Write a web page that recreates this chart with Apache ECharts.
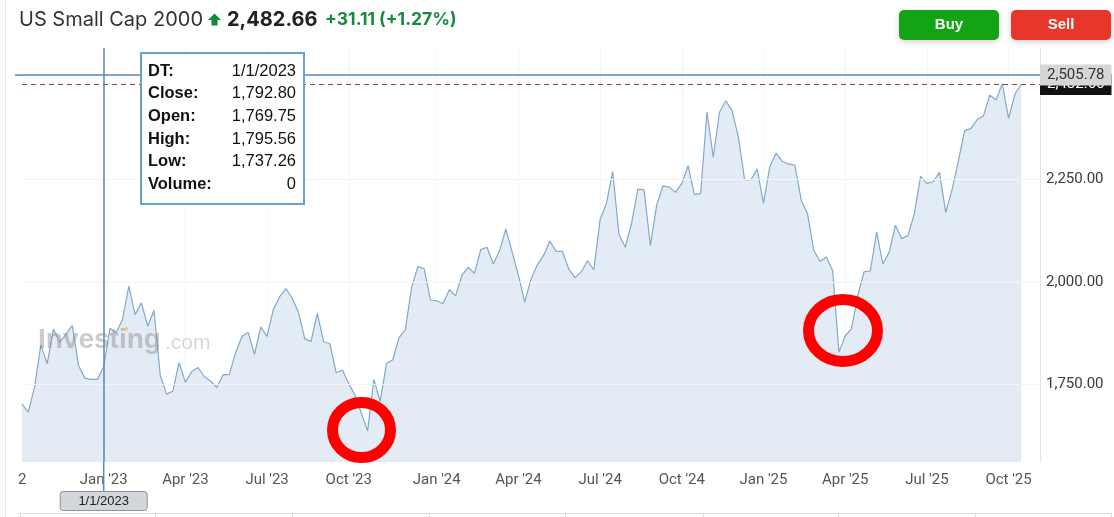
<!DOCTYPE html>
<html><head><meta charset="utf-8">
<script src="https://cdn.jsdelivr.net/npm/echarts@6/dist/echarts.min.js"></script>
<style>html,body{margin:0;padding:0;background:#fff;}#c{width:1114px;height:517px;}</style>
</head><body><div id="c"></div>
<script>
// ---- data ----
const startDate = '2022-10-02';   // first weekly bar (Sunday)
const futureWeeks = 3;            // empty weeks to the right edge of the axis
const closeValues = [
 1702,1682,1743,1846,1800,1885,1853,1872,1894,1796,1765,1762,1762,1792.80,1887,1876,1909,1990,1920,1949,
 1892,1931,1772,1726,1733,1803,1755,1781,1791,1769,1758,1742,1773,1774,1828,1867,1877,1823,1890,1867,
 1933,1964,1984,1960,1926,1861,1855,1923,1854,1849,1778,1785,1751,1724,1679,1636,1762,1708,1800,1810,
 1864,1883,1987,2038,2032,1956,1954,1947,1981,1966,2016,2036,2021,2079,2085,2044,2077,2130,2073,2016,
 1951,2007,2042,2065,2100,2075,2075,2032,2010,2025,2052,2030,2153,2192,2270,2116,2085,2143,2227,2225,
 2089,2188,2235,2232,2219,2241,2284,2214,2216,2416,2305,2415,2443,2419,2354,2250,2250,2276,2192,2282,
 2315,2295,2288,2286,2200,2167,2077,2050,2061,2028,1828,1868,1886,1966,2025,2027,2122,2044,2073,2139,
 2106,2114,2167,2258,2241,2245,2268,2170,2225,2295,2370,2375,2397,2406,2457,2445,2485,2400,2459,2482.66
];
const yTickValues = [1750, 2000, 2250];
const quarterMonths = [0, 3, 6, 9];
const monthNames = ['Jan','Feb','Mar','Apr','May','Jun','Jul','Aug','Sep','Oct','Nov','Dec'];
const lastPrice = 2482.66;
const crosshairPrice = 2505.78;
const crosshairDate = '2023-01-01';
const crosshairDateLabel = '1/1/2023';
const tooltipRows = [
  ['DT:', '1/1/2023'], ['Close:', '1,792.80'], ['Open:', '1,769.75'],
  ['High:', '1,795.56'], ['Low:', '1,737.26'], ['Volume:', '0']
];
const titleName = 'US Small Cap 2000';
const titlePrice = '2,482.66';
const titleChange = '+31.11 (+1.27%)';

// ---- categories (weekly dates) ----
const categories = [];
(function(){
  const d0 = new Date(startDate + 'T00:00:00Z');
  const n = closeValues.length + futureWeeks;
  for (let i = 0; i < n; i++) {
    const d = new Date(d0.getTime() + i * 7 * 86400000);
    categories.push(d.toISOString().slice(0, 10));
  }
})();
function isQuarterStart(idx, val) {
  if (idx === 0) return false;
  const m = +val.slice(5, 7) - 1, day = +val.slice(8, 10);
  return day <= 7 && quarterMonths.indexOf(m) >= 0;
}
function fmtNum(v) { return v.toLocaleString('en-US', {minimumFractionDigits: 2, maximumFractionDigits: 2}); }

const chart = echarts.init(document.getElementById('c'), null, {renderer: 'canvas'});
const FONT = 'Roboto, "Noto Sans", Arial, sans-serif';

chart.setOption({
  animation: false,
  backgroundColor: '#fff',
  grid: {left: 22, right: 74, top: 48, bottom: 55, containLabel: false},
  xAxis: {
    type: 'category', data: categories, boundaryGap: false,
    axisLine: {show: false}, axisTick: {show: false},
    axisLabel: {
      interval: isQuarterStart, margin: 11, color: '#555', fontSize: 15, fontFamily: FONT,
      formatter: function (v) { return monthNames[+v.slice(5, 7) - 1] + " '" + v.slice(2, 4); }
    },
    splitLine: {show: true, interval: isQuarterStart, lineStyle: {color: '#f3f5f7', width: 1}}
  },
  yAxis: {
    type: 'value', position: 'right', min: 1560, max: 2572,
    axisLine: {show: true, lineStyle: {color: '#e4e4e4'}},
    axisTick: {show: false, customValues: yTickValues},
    splitLine: {show: false},
    axisLabel: {customValues: yTickValues, margin: 6, color: '#3a3a3a', fontSize: 15, fontFamily: FONT, formatter: fmtNum}
  },
  series: [{
    type: 'line', data: closeValues, showSymbol: false, symbol: 'none',
    lineStyle: {color: '#80a9cc', width: 1.2},
    areaStyle: {color: '#e3ecf5', opacity: 1, origin: 'start'},
    z: 2,
    markLine: {
      silent: true, symbol: 'none', animation: false,
      data: yTickValues.map(v => ({yAxis: v, lineStyle: {color: '#f2f4f6', width: 1, type: 'solid'}, label: {show: false}}))
        .concat([
        {yAxis: lastPrice, lineStyle: {color: '#9e3d3a', width: 1, type: [5, 4]},
         label: {show: true, position: 'end', distance: 0, formatter: fmtNum(lastPrice), backgroundColor: '#111', color: '#fff',
                 fontSize: 15, fontFamily: FONT, padding: [3, 7, 3, 7], lineHeight: 15}},
        {yAxis: crosshairPrice, lineStyle: {color: '#5d86b3', width: 1.5, type: 'solid'},
         label: {show: true, position: 'end', distance: 0, formatter: fmtNum(crosshairPrice), backgroundColor: '#d6d6d6', color: '#333',
                 fontSize: 15, fontFamily: FONT, padding: [3, 7, 3, 7], lineHeight: 15}},
        {xAxis: crosshairDate, lineStyle: {color: '#5d86b3', width: 1.5, type: 'solid'}, label: {show: false}}
      ])
    }
  }]
});

const cp = chart.convertToPixel({xAxisIndex: 0, yAxisIndex: 0}, [crosshairDate, crosshairPrice]);
const cx = cp[0], cyH = cp[1];
const g = [];
// container borders / toolbar
g.push({type: 'line', shape: {x1: 5.5, y1: 0, x2: 5.5, y2: 517}, style: {stroke: '#e6e6e6', lineWidth: 1}, z: 1});
g.push({type: 'line', shape: {x1: 18, y1: 513.5, x2: 1111, y2: 513.5}, style: {stroke: '#dcdcdc', lineWidth: 1}, z: 1});
[20, 155, 292, 429, 565, 703, 838, 975, 1111].forEach(x => g.push({type: 'line', shape: {x1: x + 0.5, y1: 513, x2: x + 0.5, y2: 517}, style: {stroke: '#dcdcdc', lineWidth: 1}, z: 1}));
// partial first axis label
g.push({type: 'text', x: 18, y: 480, style: {text: '2', font: '15px ' + FONT, fill: '#555', textVerticalAlign: 'middle'}, z: 5});
// watermark
g.push({type: 'text', x: 38, y: 340, style: {text: 'Investing', font: 'bold 28px "Liberation Sans", Arial, sans-serif', fill: 'rgba(140,140,140,0.45)', textVerticalAlign: 'middle'}, z: 10});
g.push({type: 'text', x: 165, y: 343, style: {text: '.com', font: '21px "Liberation Sans", Arial, sans-serif', fill: 'rgba(160,160,160,0.42)', textVerticalAlign: 'middle'}, z: 10});
g.push({type: 'circle', shape: {cx: 126, cy: 329, r: 2}, style: {fill: 'rgba(240,190,60,0.7)'}, z: 11});
// crosshair extensions and date label
g.push({type: 'line', shape: {x1: cx, y1: 462, x2: cx, y2: 491}, style: {stroke: '#5d86b3', lineWidth: 1.5}, z: 20});
g.push({type: 'line', shape: {x1: 15, y1: cyH, x2: 22, y2: cyH}, style: {stroke: '#5d86b3', lineWidth: 1.5}, z: 20});
g.push({type: 'rect', shape: {x: cx - 43.5, y: 491.5, width: 87, height: 19, r: 3}, style: {fill: '#d3d6da', stroke: '#8b929a', lineWidth: 1}, z: 21});
g.push({type: 'text', x: cx, y: 501, style: {text: crosshairDateLabel, font: '13px "Liberation Sans", Arial, sans-serif', fill: '#222', textAlign: 'center', textVerticalAlign: 'middle'}, z: 22});
// tooltip box
g.push({type: 'rect', shape: {x: 141, y: 53, width: 163, height: 151}, style: {fill: '#fff', stroke: '#6a9fd4', lineWidth: 2}, z: 30});
tooltipRows.forEach((r, i) => {
  const y = 71 + i * 22.7;
  g.push({type: 'text', x: 148, y: y, style: {text: r[0], font: 'bold 16.5px "Liberation Sans", Arial, sans-serif', fill: '#111', textVerticalAlign: 'middle'}, z: 31});
  g.push({type: 'text', x: 296, y: y, style: {text: r[1], font: '16.5px "Liberation Sans", Arial, sans-serif', fill: '#111', textAlign: 'right', textVerticalAlign: 'middle'}, z: 31});
});
// red annotation circles
g.push({type: 'ellipse', shape: {cx: 361.5, cy: 430, rx: 29, ry: 27.5}, style: {fill: 'none', stroke: '#ff0000', lineWidth: 11}, z: 40});
g.push({type: 'ellipse', shape: {cx: 843, cy: 330.5, rx: 34.5, ry: 31}, style: {fill: 'none', stroke: '#ff0000', lineWidth: 11}, z: 40});
// header
g.push({type: 'text', x: 19, y: 20, style: {text: titleName, font: '20px Inter, "Open Sans", Arial, sans-serif', fill: '#333', textVerticalAlign: 'middle'}, z: 50});
g.push({type: 'polygon', shape: {points: [[214.5, 13.5], [208, 20], [211.5, 20], [211.5, 25.5], [217.5, 25.5], [217.5, 20], [221, 20]]}, style: {fill: '#0f8a3d'}, z: 50});
g.push({type: 'text', x: 227, y: 20, style: {text: titlePrice, font: 'bold 20px Inter, "Open Sans", Arial, sans-serif', fill: '#222', textVerticalAlign: 'middle'}, z: 50});
g.push({type: 'text', x: 325, y: 20, style: {text: titleChange, font: 'bold 17.5px Inter, "Open Sans", Arial, sans-serif', fill: '#168a3e', textVerticalAlign: 'middle'}, z: 50});
// buttons
g.push({type: 'rect', shape: {x: 899, y: 10, width: 100, height: 30, r: 5}, style: {fill: '#13a313', shadowBlur: 6, shadowColor: 'rgba(0,0,0,0.18)', shadowOffsetY: 2}, z: 50});
g.push({type: 'text', x: 949, y: 25, style: {text: 'Buy', font: 'bold 15px "Liberation Sans", Arial, sans-serif', fill: '#fff', textAlign: 'center', textVerticalAlign: 'middle'}, z: 51});
g.push({type: 'rect', shape: {x: 1011, y: 10, width: 100, height: 30, r: 5}, style: {fill: '#e8362b', shadowBlur: 6, shadowColor: 'rgba(0,0,0,0.18)', shadowOffsetY: 2}, z: 50});
g.push({type: 'text', x: 1061, y: 25, style: {text: 'Sell', font: 'bold 15px "Liberation Sans", Arial, sans-serif', fill: '#fff', textAlign: 'center', textVerticalAlign: 'middle'}, z: 51});
chart.setOption({graphic: g});
</script></body></html>
